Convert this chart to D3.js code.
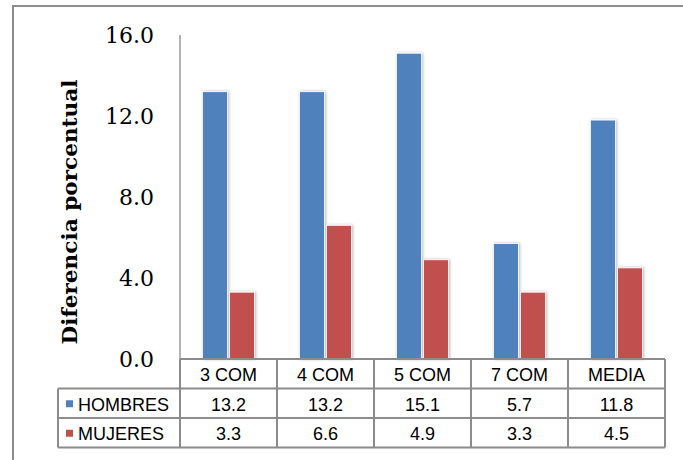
<!DOCTYPE html>
<html>
<head>
<meta charset="utf-8">
<script src="https://cdn.jsdelivr.net/npm/d3@7/dist/d3.min.js"></script>
<style>
  html, body { margin: 0; padding: 0; background: #fff; }
  svg { display: block; }
</style>
</head>
<body>
<script>
// Percentage difference by grouping, men vs women
const categories = ["3 COM", "4 COM", "5 COM", "7 COM", "MEDIA"];
const seriesNames = ["HOMBRES", "MUJERES"];
const hombres = [13.2, 13.2, 15.1, 5.7, 11.8];
const mujeres = [3.3, 6.6, 4.9, 3.3, 4.5];
const yTicks = [0, 4, 8, 12, 16];
const colors = ["#4F81BD", "#C0504D"];

const W = 683, H = 460;
const plot = { left: 180, right: 665, top: 35, bottom: 359 };
const rowH = 29.5;
const tableLeft = 58;

const svg = d3.select("body").append("svg").attr("width", W).attr("height", H);

const defs = svg.append("defs");
const sh = defs.append("filter").attr("id", "barShadow")
  .attr("x", "-30%").attr("y", "-10%").attr("width", "160%").attr("height", "120%");
sh.append("feDropShadow").attr("dx", 1).attr("dy", 0).attr("stdDeviation", 1.6)
  .attr("flood-color", "#000").attr("flood-opacity", 0.28);
const gs = defs.append("filter").attr("id", "lineShadow")
  .attr("x", "-5%").attr("y", "-200%").attr("width", "110%").attr("height", "500%");
gs.append("feDropShadow").attr("dx", 0).attr("dy", 1).attr("stdDeviation", 0.6)
  .attr("flood-color", "#000").attr("flood-opacity", 0.2);

// Outer chart frame
svg.append("rect").attr("x", 13).attr("y", 6).attr("width", 720).attr("height", 520)
  .attr("fill", "none").attr("stroke", "#8c8c8c").attr("stroke-width", 2);

const y = d3.scaleLinear().domain([0, 16]).range([plot.bottom, plot.top]);
const x = d3.scaleBand().domain(categories).range([plot.left, plot.right]);
// two bars per group, centred in each column with a small gap between them
const xs = d3.scaleBand().domain(seriesNames)
  .range([22.5, x.bandwidth() - 22.5]).paddingInner(0.075);

// Gridlines
svg.append("g").selectAll("line").data(yTicks.filter(d => d > 0)).join("line")
  .attr("x1", plot.left).attr("x2", plot.right)
  .attr("y1", d => y(d)).attr("y2", d => y(d))
  .attr("stroke", "#8a8a8a").attr("stroke-width", 2)
  .attr("filter", "url(#lineShadow)");

// Vertical axis line
svg.append("line").attr("x1", plot.left).attr("x2", plot.left)
  .attr("y1", plot.top).attr("y2", plot.bottom)
  .attr("stroke", "#9a9a9a").attr("stroke-width", 1.5);

// Y axis labels
const yAxis = d3.axisLeft(y).tickValues(yTicks).tickFormat(d3.format(".1f")).tickSize(0).tickPadding(0);
const ya = svg.append("g").attr("transform", `translate(${154},0)`).call(yAxis);
ya.select(".domain").remove();
ya.selectAll("text")
  .attr("font-family", "'DejaVu Serif', serif").attr("font-size", 22).attr("fill", "#000")
  .attr("dy", "0.35em");

// Y axis title
svg.append("text")
  .attr("transform", `translate(77,212) rotate(-90)`)
  .attr("text-anchor", "middle")
  .attr("font-family", "'DejaVu Serif', serif").attr("font-weight", "bold").attr("font-size", 20)
  .attr("textLength", 265).attr("lengthAdjust", "spacingAndGlyphs")
  .text("Diferencia porcentual");

// Bars
const series = [hombres, mujeres];
const groups = svg.append("g").selectAll("g").data(categories).join("g")
  .attr("transform", d => `translate(${x(d)},0)`);
groups.selectAll("rect").data((c, i) => seriesNames.map((s, k) => ({ s, v: series[k][i], k })))
  .join("rect")
  .attr("x", d => xs(d.s)).attr("width", xs.bandwidth())
  .attr("y", d => y(d.v)).attr("height", d => y(0) - y(d.v))
  .attr("fill", d => colors[d.k])
  .attr("stroke", "#fff").attr("stroke-width", 0.8)
  .attr("filter", "url(#barShadow)");

// Data table
const tg = svg.append("g");
const lineC = "#8c8c8c";
const tTop = plot.bottom;
const tBot = tTop + rowH * 3;
// horizontal rules
tg.append("line").attr("x1", plot.left).attr("x2", plot.right).attr("y1", tTop).attr("y2", tTop)
  .attr("stroke", lineC).attr("stroke-width", 2);
[1, 2, 3].forEach(r => {
  tg.append("line").attr("x1", tableLeft).attr("x2", plot.right)
    .attr("y1", tTop + rowH * r).attr("y2", tTop + rowH * r)
    .attr("stroke", lineC).attr("stroke-width", 2);
});
// vertical rules
tg.append("line").attr("x1", tableLeft).attr("x2", tableLeft).attr("y1", tTop + rowH).attr("y2", tBot)
  .attr("stroke", lineC).attr("stroke-width", 2);
categories.forEach(c => {
  tg.append("line").attr("x1", x(c)).attr("x2", x(c)).attr("y1", tTop).attr("y2", tBot)
    .attr("stroke", lineC).attr("stroke-width", 2);
});
tg.append("line").attr("x1", plot.right).attr("x2", plot.right).attr("y1", tTop).attr("y2", tBot)
  .attr("stroke", lineC).attr("stroke-width", 2);

const tf = "'Liberation Sans', Arial, sans-serif";
// category header
tg.selectAll("text.cat").data(categories).join("text").attr("class", "cat")
  .attr("x", d => x(d) + x.bandwidth() / 2).attr("y", tTop + rowH / 2 + 1)
  .attr("text-anchor", "middle").attr("dy", "0.35em")
  .attr("font-family", tf).attr("font-size", 18).attr("fill", "#000")
  .text(d => d);
// series rows
series.forEach((vals, k) => {
  const cy = tTop + rowH * (k + 1) + rowH / 2 + 1;
  tg.append("rect").attr("x", 66).attr("y", cy - 4).attr("width", 7).attr("height", 7)
    .attr("fill", colors[k]);
  tg.append("text").attr("x", 78).attr("y", cy).attr("dy", "0.35em")
    .attr("font-family", tf).attr("font-size", 18).attr("fill", "#000")
    .text(seriesNames[k]);
  tg.selectAll(null).data(vals).join("text")
    .attr("x", (d, i) => x(categories[i]) + x.bandwidth() / 2).attr("y", cy)
    .attr("text-anchor", "middle").attr("dy", "0.35em")
    .attr("font-family", tf).attr("font-size", 18).attr("fill", "#000")
    .text(d => d.toFixed(1));
});
</script>
</body>
</html>
